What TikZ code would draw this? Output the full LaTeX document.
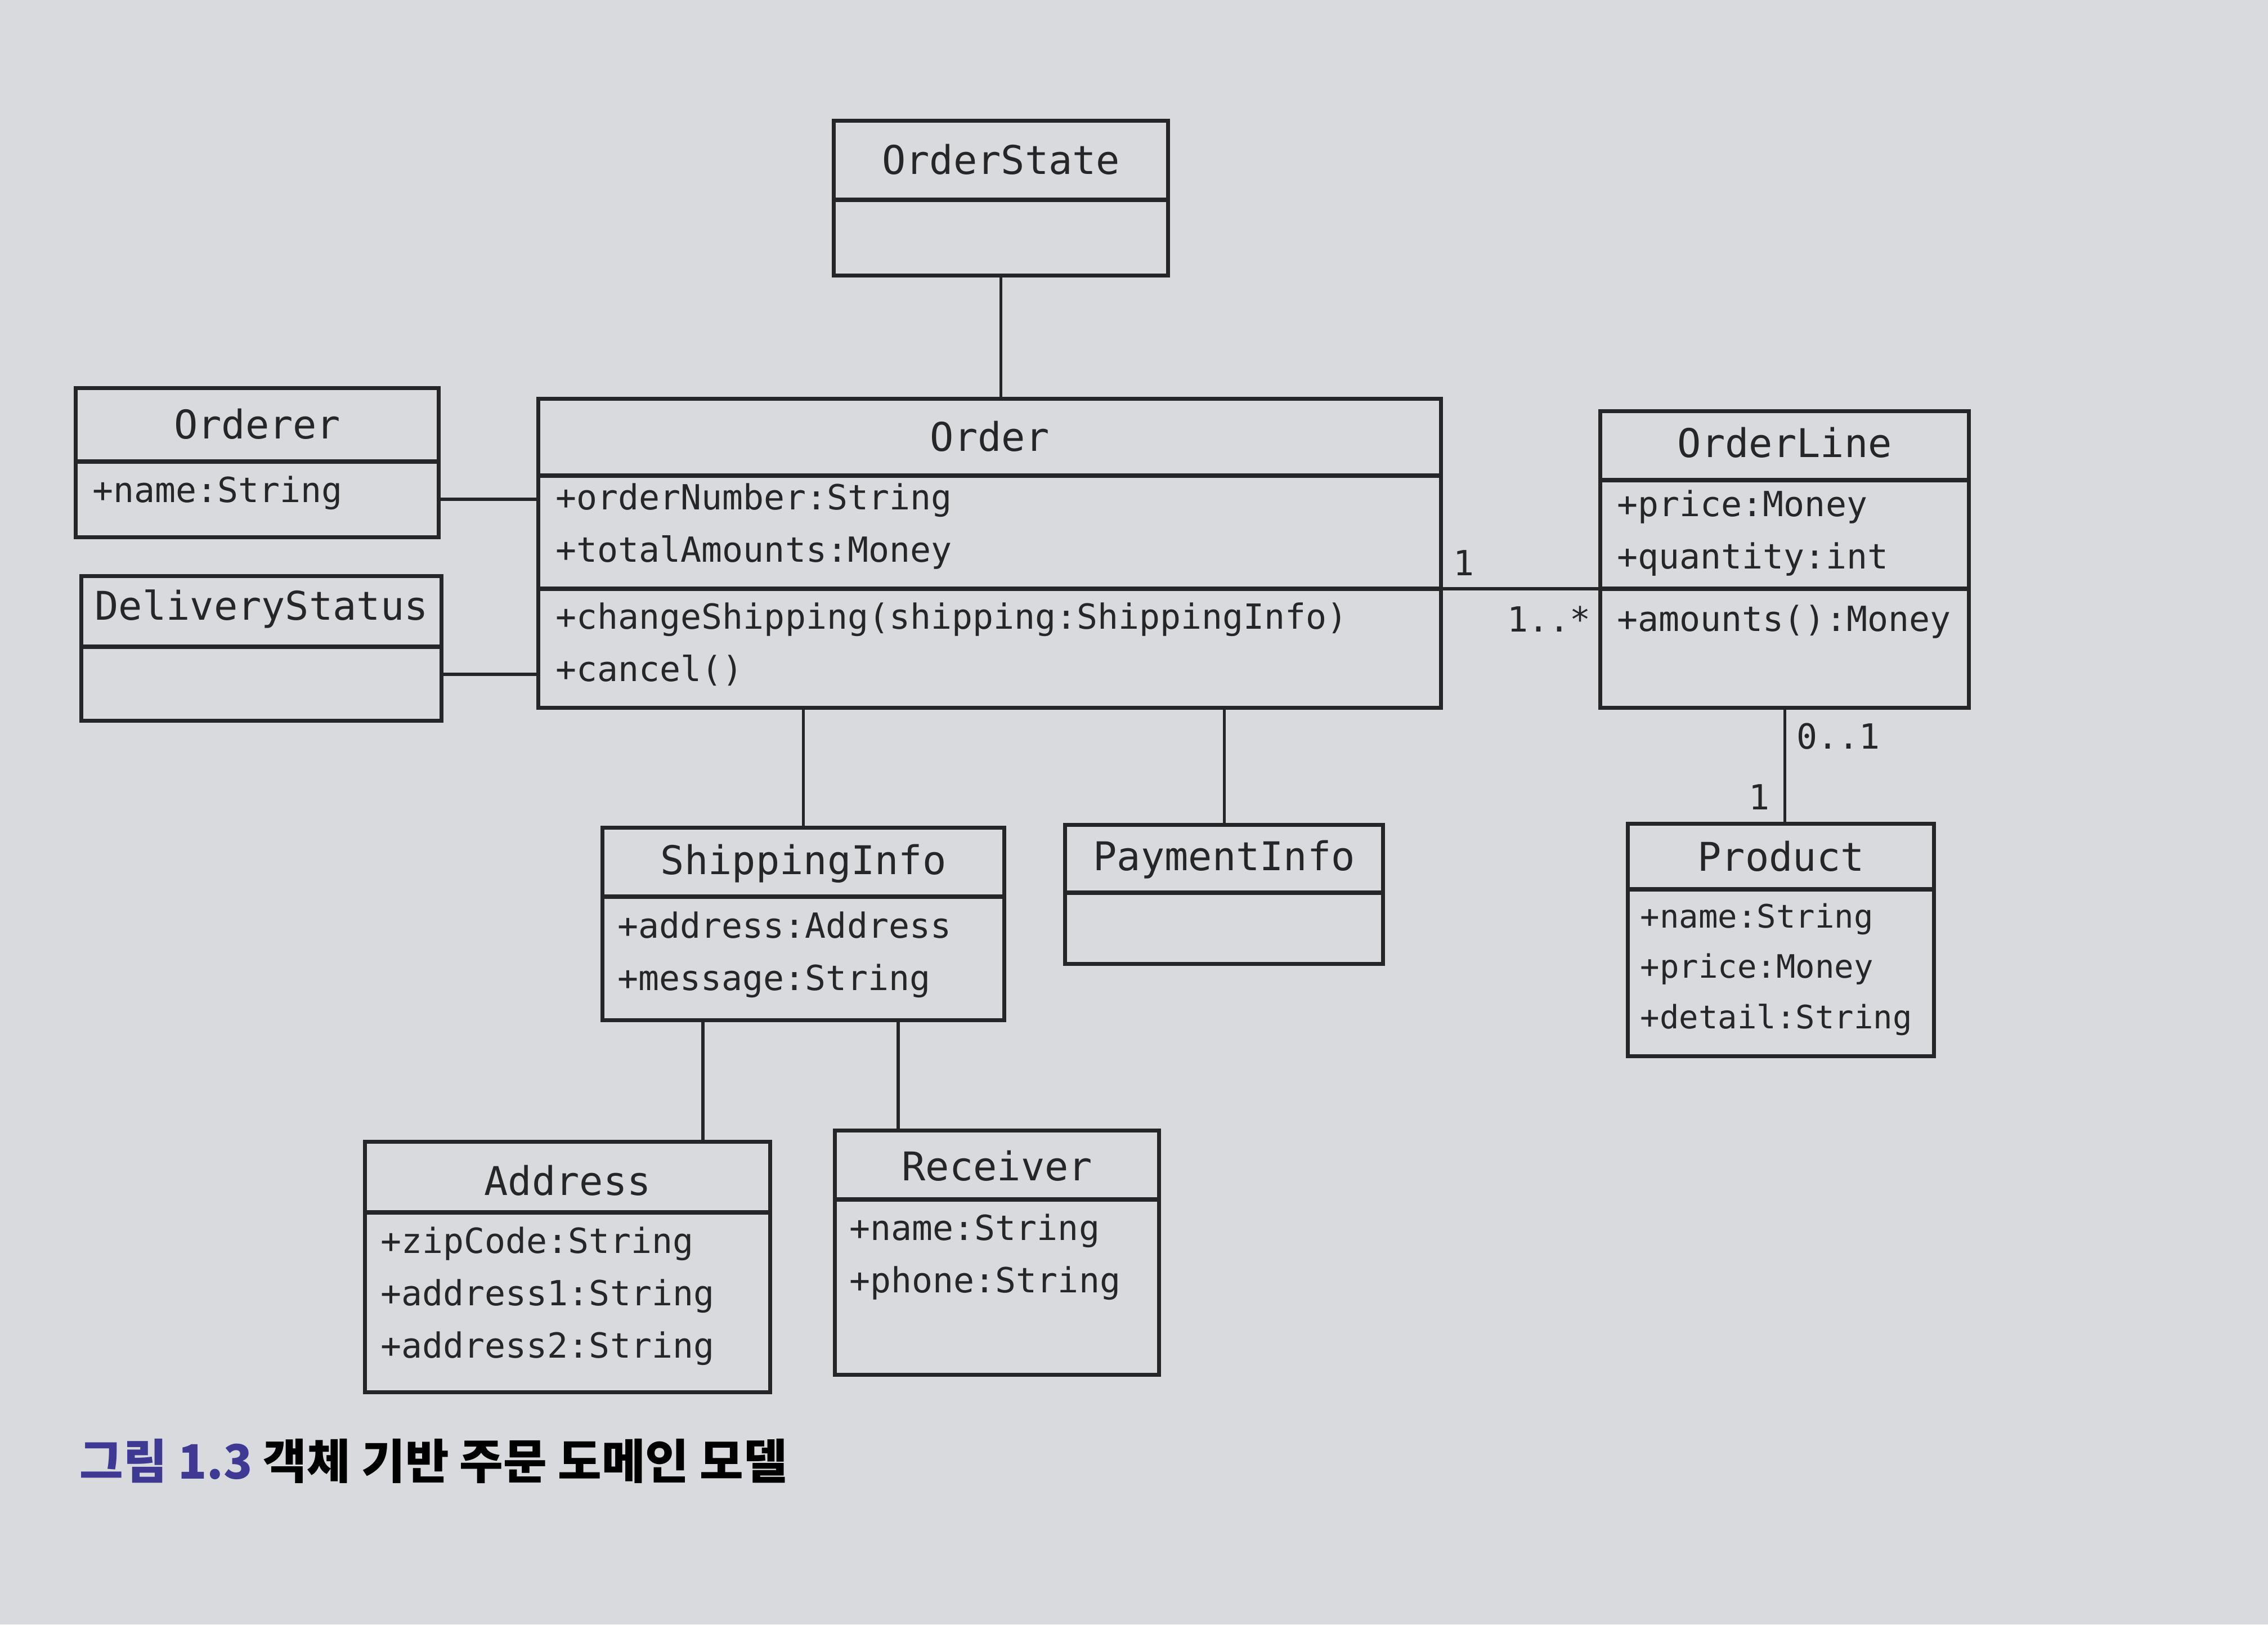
\documentclass[tikz,border=0pt]{standalone}
\usepackage{fontspec}
\setmonofont{DejaVu Sans Mono}
\newfontfamily\cjk{Noto Sans CJK KR}
\usepackage{xcolor}
\usetikzlibrary{calc}
\definecolor{paper}{RGB}{217,218,221}
\definecolor{ink}{RGB}{38,38,40}
\definecolor{capblue}{RGB}{62,58,148}

\begin{document}
\begin{tikzpicture}[
    box/.style={draw=ink, line width=2.1pt, anchor=north west, inner sep=0pt},
    sep/.style={ink, line width=2.1pt},
    link/.style={ink, line width=1.5pt},
    title/.style={font=\ttfamily\fontsize{20}{24}\selectfont, text=ink, inner sep=0pt},
    member/.style={font=\ttfamily\fontsize{17.5}{26.5}\selectfont, text=ink, align=left, anchor=west, inner sep=0pt},
    mult/.style={font=\ttfamily\fontsize{17.5}{21}\selectfont, text=ink, inner sep=0pt}
  ]
  % 背景
  \fill[paper] (0,0) rectangle (40.30,-28.86);
  \useasboundingbox (0,0) rectangle (40.30,-28.86);

  % OrderState
  \node[box, minimum width=5.94cm, minimum height=2.75cm] (orderstate) at (14.78,-2.11) {};
  \draw[sep] (orderstate.west |- 0,-3.55) -- (orderstate.east |- 0,-3.55);
  \node[title] (orderstate-title) at (orderstate.north |- 0,-2.83) {OrderState};

  % Order
  \node[box, minimum width=16.04cm, minimum height=5.49cm] (order) at (9.53,-7.05) {};
  \draw[sep] (order.west |- 0,-8.45) -- (order.east |- 0,-8.45);
  \draw[sep] (order.west |- 0,-10.46) -- (order.east |- 0,-10.46);
  \node[title] (order-title) at (order.north |- 0,-7.75) {Order};
  \node[member] (order-attr) at (9.87,-9.35) {+orderNumber:String\\+totalAmounts:Money};
  \node[member] (order-op) at (9.87,-11.45) {+changeShipping(shipping:ShippingInfo)\\+cancel()};

  % Orderer
  \node[box, minimum width=6.45cm, minimum height=2.65cm] (orderer) at (1.31,-6.86) {};
  \draw[sep] (orderer.west |- 0,-8.20) -- (orderer.east |- 0,-8.20);
  \node[title] (orderer-title) at (orderer.north |- 0,-7.53) {Orderer};
  \node[member] (orderer-attr) at (1.64,-8.76) {+name:String};

  % DeliveryStatus
  \node[box, minimum width=6.40cm, minimum height=2.57cm] (delivery) at (1.41,-10.20) {};
  \draw[sep] (delivery.west |- 0,-11.49) -- (delivery.east |- 0,-11.49);
  \node[title] (delivery-title) at (delivery.north |- 0,-10.82) {DeliveryStatus};

  % OrderLine
  \node[box, minimum width=6.55cm, minimum height=5.27cm] (orderline) at (28.40,-7.27) {};
  \draw[sep] (orderline.west |- 0,-8.53) -- (orderline.east |- 0,-8.53);
  \draw[sep] (orderline.west |- 0,-10.46) -- (orderline.east |- 0,-10.46);
  \node[title] (orderline-title) at (orderline.north |- 0,-7.86) {OrderLine};
  \node[member] (orderline-attr) at (28.73,-9.47) {+price:Money\\+quantity:int};
  \node[member] (orderline-op) at (28.73,-11.05) {+amounts():Money};

  % Product
  \node[box, minimum width=5.44cm, minimum height=4.13cm] (product) at (28.89,-14.60) {};
  \draw[sep] (product.west |- 0,-15.80) -- (product.east |- 0,-15.80);
  \node[title] (product-title) at (product.north |- 0,-15.21) {Product};
  \node[member, font=\ttfamily\fontsize{16.3}{25.5}\selectfont] (product-attr) at (29.14,-17.22) {+name:String\\+price:Money\\+detail:String};

  % ShippingInfo
  \node[box, minimum width=7.14cm, minimum height=3.42cm] (shipping) at (10.67,-14.67) {};
  \draw[sep] (shipping.west |- 0,-15.93) -- (shipping.east |- 0,-15.93);
  \node[title] (shipping-title) at (shipping.north |- 0,-15.34) {ShippingInfo};
  \node[member] (shipping-attr) at (10.97,-16.96) {+address:Address\\+message:String};

  % PaymentInfo
  \node[box, minimum width=5.65cm, minimum height=2.47cm] (payment) at (18.89,-14.62) {};
  \draw[sep] (payment.west |- 0,-15.86) -- (payment.east |- 0,-15.86);
  \node[title] (payment-title) at (payment.north |- 0,-15.27) {PaymentInfo};

  % Address
  \node[box, minimum width=7.20cm, minimum height=4.45cm] (address) at (6.45,-20.25) {};
  \draw[sep] (address.west |- 0,-21.54) -- (address.east |- 0,-21.54);
  \node[title] (address-title) at (address.north |- 0,-20.97) {Address};
  \node[member] (address-attr) at (6.76,-23.03) {+zipCode:String\\+address1:String\\+address2:String};

  % Receiver
  \node[box, minimum width=5.76cm, minimum height=4.34cm] (receiver) at (14.80,-20.05) {};
  \draw[sep] (receiver.west |- 0,-21.31) -- (receiver.east |- 0,-21.31);
  \node[title] (receiver-title) at (receiver.north |- 0,-20.71) {Receiver};
  \node[member] (receiver-attr) at (15.09,-22.33) {+name:String\\+phone:String};

  % 関連線
  \draw[link] (orderstate.south) -- (orderstate.south |- order.north);
  \draw[link] (orderer.east |- 0,-8.87) -- (order.west |- 0,-8.87);
  \draw[link] (delivery.east |- 0,-11.98) -- (order.west |- 0,-11.98);
  \draw[link] (order.east |- 0,-10.46) -- (orderline.west |- 0,-10.46);
  \draw[link] (orderline.south) -- (orderline.south |- product.north);
  \draw[link] (shipping.north) -- (shipping.north |- order.south);
  \draw[link] (payment.north) -- (payment.north |- order.south);
  \draw[link] (shipping.south -| 12.49,0) -- (address.north -| 12.49,0);
  \draw[link] (shipping.south -| 15.96,0) -- (receiver.north -| 15.96,0);

  % 多重度
  \node[mult, anchor=west] (m-order) at (25.82,-10.00) {1};
  \node[mult, anchor=east] (m-orderline) at (28.27,-11.00) {1..*};
  \node[mult, anchor=west] (m-product-top) at (31.92,-13.08) {0..1};
  \node[mult, anchor=east] (m-product-bottom) at (31.45,-14.16) {1};

  % キャプション
  \node[anchor=west, inner sep=0pt, font=\cjk\bfseries\fontsize{24}{28}\selectfont] (caption) at (1.41,-25.96)
    {\textcolor{capblue}{그림 1.3} 객체 기반 주문 도메인 모델};
\end{tikzpicture}
\end{document}
